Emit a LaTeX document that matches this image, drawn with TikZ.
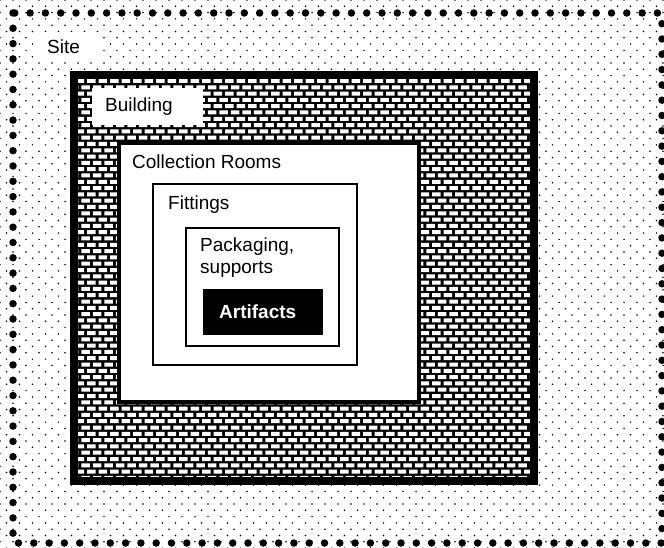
\documentclass[tikz,border=0pt]{standalone}
\usepackage{fontspec}
\setmainfont{Liberation Sans}
\tikzset{
  labelbox/.style={fill=white, anchor=north west, align=left, inner ysep=0pt},
  roomlabel/.style={anchor=west, inner sep=0pt, align=left},
}
\begin{document}
\begin{tikzpicture}[font=\fontsize{19}{21.5}\selectfont, x=1pt, y=-1pt]

\useasboundingbox (0,0) rectangle (664,548);

\foreach \j in {0,...,43}{
  \fill[black] foreach \i in {0,...,51}{
    (\i*13,\j*12.6) circle (0.85pt) (\i*13+6.5,\j*12.6+6.3) circle (0.85pt)};}

\node[labelbox, inner xsep=14pt, text width=42pt, minimum height=30pt] (site) at (33,32) {Site};

\begin{scope}
\clip (74,75) rectangle (534,481);
\fill[black] (74,75) rectangle (534,481);
\foreach \j in {0,...,65}{
  \fill[white] foreach \i in {-1,...,40}{
    ({74+\i*11.5+mod(\j,2)*5.75+1.5},{78+\j*6.3+1}) rectangle ++(8.5,4)};}
\end{scope}
\draw[line width=8pt] (74,75) rectangle (534,481);

\node[labelbox, inner xsep=13pt, text width=85pt, minimum height=37pt] (building) at (92,88) {Building};

\draw[line width=4pt, fill=white] (119,143) rectangle (419,402);
\node[roomlabel] (rooms) at (132,162) {Collection Rooms};

\draw[line width=2pt] (153,184) rectangle (357,365);
\node[roomlabel] (fittings) at (168,205) {Fittings};

\draw[line width=1.2pt] (186,228) rectangle (339,346);
\node[roomlabel] (packaging) at (200,257.5) {Packaging,\\supports};

\node[fill=black, text=white, font=\fontsize{19}{21.5}\selectfont\bfseries, anchor=north west,
  inner xsep=16pt, inner ysep=0pt, text width=88pt, minimum height=46pt, align=left] (artifacts) at (203,289) {Artifacts};

\draw[line width=7.5pt, line cap=round, dash pattern=on 0pt off 15.3pt] (13,13) rectangle (662,543);

\end{tikzpicture}
\end{document}
